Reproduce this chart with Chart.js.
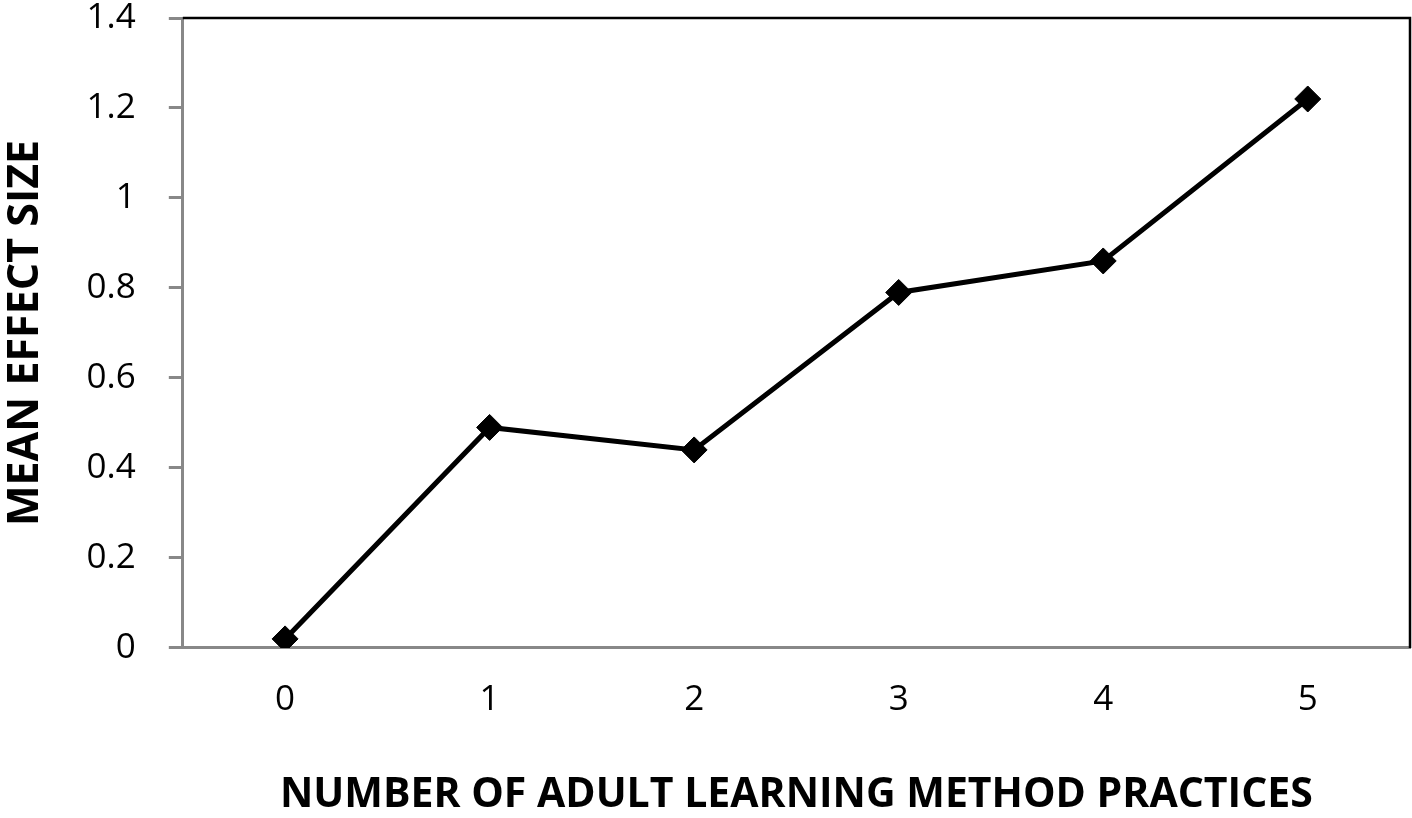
<!DOCTYPE html>
<html>
<head>
<meta charset="utf-8">
<script src="https://cdn.jsdelivr.net/npm/chart.js@4/dist/chart.umd.min.js"></script>
<style>
    html, body { margin: 0; padding: 0; background: #fff; overflow: hidden; }
    #wrap { width: 1412px; height: 818px; position: relative; }
    canvas { display: block; }
</style>
</head>
<body>
<div id="wrap"><canvas id="effect-chart"></canvas></div>
<script>
// 数据
const practiceCounts = ['0', '1', '2', '3', '4', '5'];
const meanEffectSizes = [0.02, 0.49, 0.44, 0.79, 0.86, 1.22];
const yTicks = [0, 0.2, 0.4, 0.6, 0.8, 1, 1.2, 1.4];

const FONT = "'Open Sans', 'Liberation Sans', sans-serif";

// 图表上方和右侧的黑色边框
const frameBorder = {
    id: 'frameBorder',
    afterDraw(chart) {
        const { ctx, chartArea } = chart;
        ctx.save();
        ctx.strokeStyle = '#000';
        ctx.lineWidth = 2.5;
        ctx.beginPath();
        ctx.moveTo(chartArea.left, chartArea.top);
        ctx.lineTo(chartArea.right, chartArea.top);
        ctx.lineTo(chartArea.right, chartArea.bottom);
        ctx.stroke();
        ctx.restore();
    }
};

const ctx = document.getElementById('effect-chart');
new Chart(ctx, {
    type: 'line',
    data: {
        labels: practiceCounts,
        datasets: [{
            data: meanEffectSizes,
            borderColor: '#000',
            backgroundColor: '#000',
            borderWidth: 5,
            pointStyle: 'rectRot',
            pointRadius: 13,
            pointHoverRadius: 13,
            pointBorderWidth: 1,
            tension: 0
        }]
    },
    options: {
        responsive: true,
        maintainAspectRatio: false,
        animation: false,
        layout: {
            autoPadding: false,
            padding: { top: 18, right: 2, bottom: 0, left: 0 }
        },
        plugins: {
            legend: { display: false },
            tooltip: { enabled: false }
        },
        scales: {
            x: {
                offset: true,
                grid: { display: false, drawTicks: false },
                border: { color: '#888', width: 3 },
                ticks: {
                    color: '#000',
                    font: { family: FONT, size: 35 },
                    padding: 31
                },
                title: {
                    display: true,
                    text: 'NUMBER OF ADULT LEARNING METHOD PRACTICES',
                    color: '#000',
                    font: { family: FONT, size: 41, weight: 'bold', lineHeight: 1.1 },
                    padding: { top: 21, bottom: 0 }
                }
            },
            y: {
                min: 0,
                max: 1.4,
                afterBuildTicks(axis) {
                    axis.ticks = yTicks.map(v => ({ value: v }));
                },
                afterFit(axis) {
                    // 去掉刻度标签带来的上下额外留白
                    axis.paddingTop = 0;
                    axis.paddingBottom = 0;
                },
                grid: {
                    display: true,
                    drawOnChartArea: false,
                    drawTicks: true,
                    tickLength: 14,
                    color: '#888',
                    lineWidth: 3
                },
                border: { color: '#888', width: 3 },
                ticks: {
                    color: '#000',
                    font: { family: FONT, size: 35 },
                    padding: 33,
                    callback: v => String(Math.round(v * 10) / 10)
                },
                title: {
                    display: true,
                    text: 'MEAN EFFECT SIZE',
                    color: '#000',
                    font: { family: FONT, size: 43, weight: 'bold' },
                    padding: { top: 0, bottom: 2 }
                }
            }
        }
    },
    plugins: [frameBorder]
});
</script>
</body>
</html>
